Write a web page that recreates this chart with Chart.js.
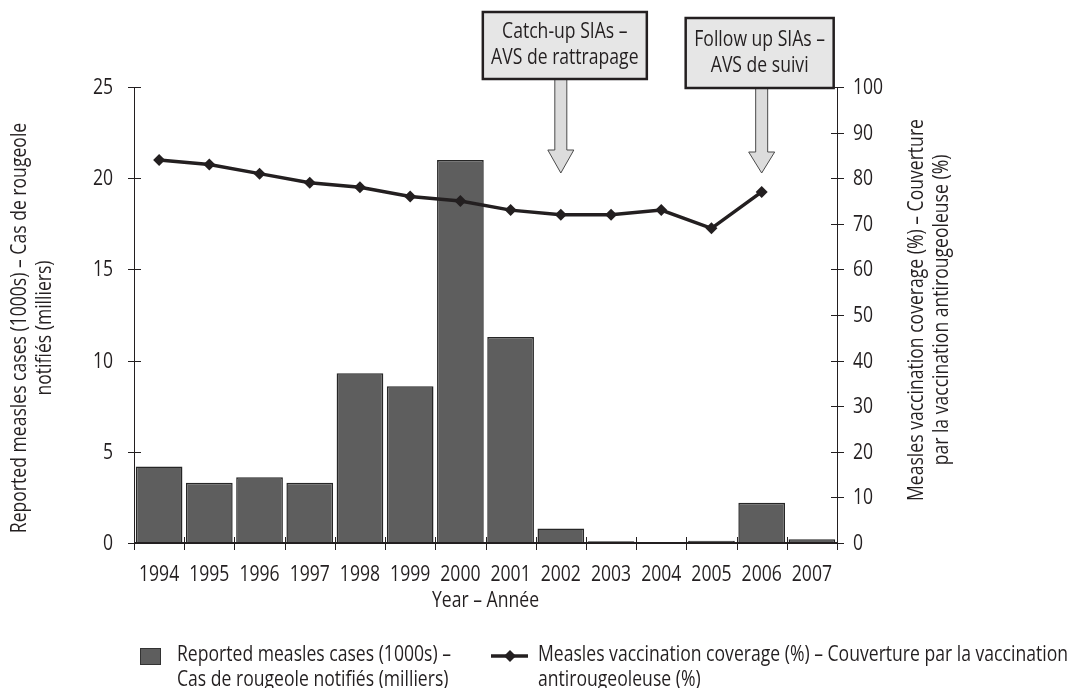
<!DOCTYPE html>
<html>
<head>
<meta charset="utf-8">
<script src="https://cdn.jsdelivr.net/npm/chart.js@4.4.1/dist/chart.umd.min.js"></script>
<style>
  html, body { margin: 0; padding: 0; background: #fff; }
  #wrap { width: 1072px; height: 688px; position: relative; }
</style>
</head>
<body>
<div id="wrap"><canvas id="MeaslesChart" width="1072" height="688"></canvas></div>
<script>
const years = ['1994', '1995', '1996', '1997', '1998', '1999', '2000', '2001', '2002', '2003', '2004', '2005', '2006', '2007'];
const cases = [4.2, 3.3, 3.6, 3.3, 9.3, 8.6, 21.0, 11.3, 0.8, 0.1, 0.05, 0.13, 2.2, 0.2];
const coverage = [84, 83, 81, 79, 78, 76, 75, 73, 72, 72, 73, 69, 77, null];
const casesTicks = [0, 5, 10, 15, 20, 25];
const coverageTicks = [0, 10, 20, 30, 40, 50, 60, 70, 80, 90, 100];
const campaigns = [
    { year: '2002', lines: ['Catch-up SIAs \u2013', 'AVS de rattrapage'] },
    { year: '2006', lines: ['Follow up SIAs \u2013', 'AVS de suivi'] }
];

const FONT = '"Open Sans", "Noto Sans", sans-serif';
const SIZE = 21;
const INK = '#231f20';
const BAR = '#5e5e5e';
const LEGEND_LINE = 'Measles vaccination coverage (%) \u2013 Couverture par la vaccination';

// the original uses a condensed face: squeeze text horizontally to match it
let SX = 1;
function fitCondensed(ctx) {
    ctx.font = SIZE + 'px ' + FONT;
    SX = 530 / ctx.measureText(LEGEND_LINE).width;
}

function txt(ctx, s, x, y, align) {
    ctx.save();
    ctx.translate(x, y);
    ctx.scale(SX, 1);
    ctx.font = SIZE + 'px ' + FONT;
    ctx.textAlign = align || 'center';
    ctx.textBaseline = 'middle';
    ctx.fillStyle = INK;
    ctx.fillText(s, 0, 0);
    ctx.restore();
}

const extras = {
    id: 'extras',
    afterDraw(chart) {
        const ctx = chart.ctx;
        const a = chart.chartArea;
        const xs = chart.scales.x, yl = chart.scales.y, yr = chart.scales.y1;
        const step = xs.getPixelForValue(1) - xs.getPixelForValue(0);
        fitCondensed(ctx);
        ctx.save();
        ctx.strokeStyle = INK;

        // axis lines
        ctx.lineWidth = 1;
        ctx.beginPath();
        ctx.moveTo(a.left + 0.5, a.top); ctx.lineTo(a.left + 0.5, a.bottom);
        ctx.moveTo(a.right + 0.5, a.top); ctx.lineTo(a.right + 0.5, a.bottom);
        ctx.stroke();
        ctx.lineWidth = 2;
        ctx.beginPath();
        ctx.moveTo(a.left, a.bottom); ctx.lineTo(a.right, a.bottom);
        ctx.stroke();

        // crossing tick marks
        ctx.lineWidth = 1;
        ctx.beginPath();
        casesTicks.forEach(v => {
            const y = Math.round(yl.getPixelForValue(v)) + 0.5;
            ctx.moveTo(a.left - 6, y); ctx.lineTo(a.left + 7, y);
        });
        coverageTicks.forEach(v => {
            const y = Math.round(yr.getPixelForValue(v)) + 0.5;
            ctx.moveTo(a.right - 6, y); ctx.lineTo(a.right + 7, y);
        });
        for (let i = 0; i <= years.length; i++) {
            const x = Math.round(xs.getPixelForValue(i) - step / 2) + 0.5;
            ctx.moveTo(x, a.bottom - 6); ctx.lineTo(x, a.bottom + 7);
        }
        ctx.stroke();

        // tick labels
        casesTicks.forEach(v => txt(ctx, String(v), a.left - 21, yl.getPixelForValue(v) + 1, 'right'));
        coverageTicks.forEach(v => txt(ctx, String(v), a.right + 16, yr.getPixelForValue(v) + 1, 'left'));
        years.forEach((y, i) => txt(ctx, y, xs.getPixelForValue(i), a.bottom + 32));

        // axis titles
        ctx.save();
        ctx.translate(20, 328);
        ctx.rotate(-Math.PI / 2);
        txt(ctx, 'Reported measles cases (1000s) \u2013 Cas de rougeole', 0, 0);
        txt(ctx, 'notifi\u00e9s (milliers)', 0, 25);
        ctx.restore();
        ctx.save();
        ctx.translate(917, 310);
        ctx.rotate(-Math.PI / 2);
        txt(ctx, 'Measles vaccination coverage (%) \u2013 Couverture', 0, 0);
        txt(ctx, 'par la vaccination antirougeoleuse (%)', 0, 25);
        ctx.restore();
        txt(ctx, 'Year \u2013 Ann\u00e9e', (a.left + a.right) / 2, 601);

        // campaign boxes and arrows
        const boxes = [
            { top: 12, bottom: 79, w: 164, dx: 4, head: 150 },
            { top: 18, bottom: 88, w: 148, dx: -2, head: 152 }
        ];
        campaigns.forEach((c, k) => {
            const b = boxes[k];
            const cx = xs.getPixelForValue(years.indexOf(c.year));
            const tip = 173;
            ctx.beginPath();
            ctx.moveTo(cx - 6, b.bottom); ctx.lineTo(cx + 6, b.bottom);
            ctx.lineTo(cx + 6, b.head); ctx.lineTo(cx + 13, b.head);
            ctx.lineTo(cx, tip); ctx.lineTo(cx - 13, b.head);
            ctx.lineTo(cx - 6, b.head); ctx.closePath();
            ctx.fillStyle = '#dcdcdc';
            ctx.fill();
            ctx.strokeStyle = '#4a4a4a';
            ctx.lineWidth = 1;
            ctx.stroke();

            const bx = cx + b.dx - b.w / 2;
            ctx.fillStyle = '#e6e6e6';
            ctx.fillRect(bx, b.top, b.w, b.bottom - b.top);
            ctx.strokeStyle = INK;
            ctx.lineWidth = 2.5;
            ctx.strokeRect(bx, b.top, b.w, b.bottom - b.top);
            const mid = (b.top + b.bottom) / 2;
            txt(ctx, c.lines[0], cx + b.dx, mid - 13);
            txt(ctx, c.lines[1], cx + b.dx, mid + 13);
        });

        // legend
        ctx.fillStyle = BAR;
        ctx.fillRect(140, 648, 20, 16);
        ctx.strokeStyle = '#333';
        ctx.lineWidth = 1;
        ctx.strokeRect(140.5, 648.5, 20, 16);
        txt(ctx, 'Reported measles cases (1000s) \u2013', 177, 655, 'left');
        txt(ctx, 'Cas de rougeole notifi\u00e9s (milliers)', 177, 680, 'left');
        ctx.strokeStyle = INK;
        ctx.lineWidth = 3.5;
        ctx.beginPath();
        ctx.moveTo(491, 656); ctx.lineTo(528, 656);
        ctx.stroke();
        ctx.fillStyle = INK;
        ctx.beginPath();
        ctx.moveTo(510, 650); ctx.lineTo(516, 656); ctx.lineTo(510, 662); ctx.lineTo(504, 656);
        ctx.closePath();
        ctx.fill();
        txt(ctx, LEGEND_LINE, 538, 655, 'left');
        txt(ctx, 'antirougeoleuse (%)', 538, 680, 'left');

        ctx.restore();
    }
};

const ctx = document.getElementById('MeaslesChart').getContext('2d');
new Chart(ctx, {
    data: {
        labels: years,
        datasets: [
            {
                type: 'line',
                label: 'Measles vaccination coverage (%)',
                data: coverage,
                yAxisID: 'y1',
                borderColor: INK,
                backgroundColor: INK,
                borderWidth: 3.5,
                pointStyle: 'rectRot',
                pointRadius: 6,
                pointBorderWidth: 0,
                tension: 0,
                spanGaps: false
            },
            {
                type: 'bar',
                label: 'Reported measles cases (1000s)',
                data: cases,
                yAxisID: 'y',
                backgroundColor: BAR,
                borderColor: '#262626',
                borderWidth: 1.5,
                barPercentage: 0.93,
                categoryPercentage: 1
            }
        ]
    },
    options: {
        responsive: false,
        animation: false,
        events: [],
        layout: { padding: { top: 87, left: 0, right: 0, bottom: 0 } },
        plugins: { legend: { display: false }, tooltip: { enabled: false } },
        scales: {
            x: {
                offset: true,
                grid: { display: false },
                border: { display: false },
                ticks: { display: false },
                afterFit(scale) { scale.height = 145; }
            },
            y: {
                position: 'left',
                min: 0,
                max: 25,
                grid: { display: false },
                border: { display: false },
                ticks: { display: false, stepSize: 5 },
                afterFit(scale) { scale.width = 134; }
            },
            y1: {
                position: 'right',
                min: 0,
                max: 100,
                grid: { display: false },
                border: { display: false },
                ticks: { display: false, stepSize: 10 },
                afterFit(scale) { scale.width = 235; }
            }
        }
    },
    plugins: [extras]
});
</script>
</body>
</html>
